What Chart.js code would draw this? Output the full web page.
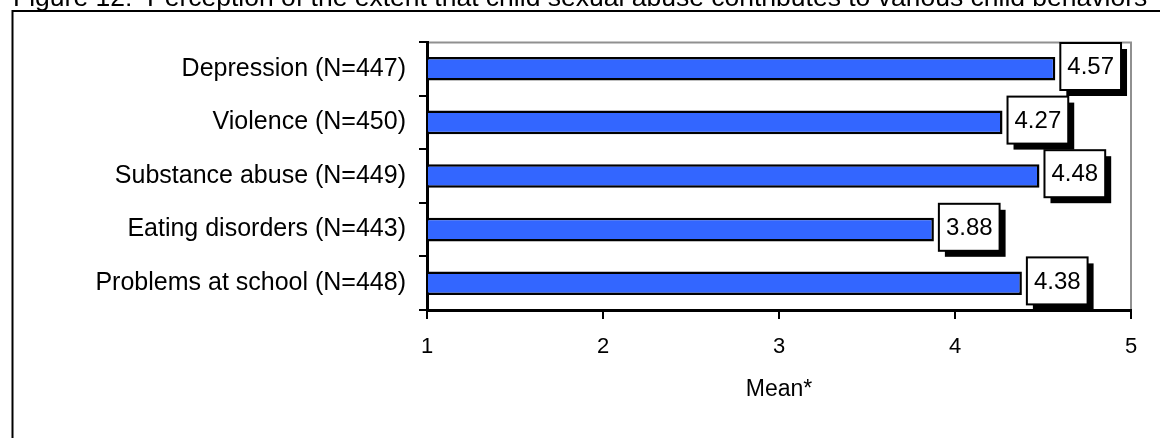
<!DOCTYPE html>
<html>
<head>
<meta charset="utf-8">
<script src="https://cdn.jsdelivr.net/npm/chart.js@4.4.1/dist/chart.umd.min.js"></script>
<style>
html,body{margin:0;padding:0;background:#fff;width:1160px;height:438px;overflow:hidden;}
#wrap{position:relative;width:1160px;height:438px;}
#title{position:absolute;left:13px;top:-16.4px;font-family:'Liberation Sans',Arial,sans-serif;font-size:26.5px;line-height:26.5px;white-space:pre;color:#000;z-index:2;}
canvas{position:absolute;left:0;top:0;}
</style>
</head>
<body>
<div id="wrap">
<canvas id="c" width="1160" height="438"></canvas>
<div id="title">Figure 12:  Perception of the extent that child sexual abuse contributes to various child behaviors</div>
</div>
<script>
// ---- data ----
const categories = [
  "Depression (N=447)",
  "Violence (N=450)",
  "Substance abuse (N=449)",
  "Eating disorders (N=443)",
  "Problems at school (N=448)"
];
const means = [4.57, 4.27, 4.48, 3.88, 4.38];
const xMin = 1;
const xMax = 5;
const xStep = 1;
const xTitle = "Mean*";

const FONT = "'Liberation Sans', Arial, sans-serif";

const framePlugin = {
  id: 'frame',
  beforeDraw(chart) {
    const ctx = chart.ctx;
    ctx.save();
    ctx.fillStyle = '#fff';
    ctx.fillRect(0, 0, chart.width, chart.height);
    ctx.strokeStyle = '#000';
    ctx.lineWidth = 2;
    ctx.beginPath();
    ctx.moveTo(12.5, chart.height + 10);
    ctx.lineTo(12.5, 11);
    ctx.lineTo(chart.width + 10, 11);
    ctx.stroke();
    ctx.restore();
  },
  beforeDatasetsDraw(chart) {
    const {ctx, chartArea: a} = chart;
    ctx.save();
    ctx.strokeStyle = '#909090';
    ctx.lineWidth = 2;
    ctx.beginPath();
    ctx.moveTo(a.left + 2, a.top + 0.5);
    ctx.lineTo(a.right, a.top + 0.5);
    ctx.lineTo(a.right, a.bottom - 1);
    ctx.stroke();
    ctx.restore();
  }
};

const labelPlugin = {
  id: 'valueBoxes',
  afterDatasetsDraw(chart) {
    const ctx = chart.ctx;
    const meta = chart.getDatasetMeta(0);
    ctx.save();
    ctx.font = '24px ' + FONT;
    meta.data.forEach((bar, i) => {
      const txt = means[i].toFixed(2);
      const tw = ctx.measureText(txt).width;
      const w = tw + 14, h = 47;
      const x = bar.x + 5, y = bar.y - 2.3 - h / 2;
      ctx.fillStyle = '#000';
      ctx.fillRect(x + 6, y + 6, w, h);
      ctx.fillStyle = '#fff';
      ctx.fillRect(x, y, w, h);
      ctx.strokeStyle = '#000';
      ctx.lineWidth = 2;
      ctx.strokeRect(x, y, w, h);
      ctx.fillStyle = '#000';
      ctx.textAlign = 'center';
      ctx.textBaseline = 'middle';
      ctx.fillText(txt, x + w / 2, y + h / 2 + 1);
    });
    ctx.restore();
  }
};

new Chart(document.getElementById('c'), {
  type: 'bar',
  data: {
    labels: categories,
    datasets: [{
      data: means,
      base: xMin,
      backgroundColor: '#3366FF',
      borderColor: '#000',
      borderWidth: 2.5,
      borderSkipped: 'start',
      barPercentage: 0.44,
      categoryPercentage: 1.0
    }]
  },
  options: {
    indexAxis: 'y',
    responsive: false,
    animation: false,
    devicePixelRatio: 1,
    layout: { padding: { top: 42, right: 29, left: 0, bottom: 0 } },
    plugins: { legend: { display: false }, tooltip: { enabled: false } },
    scales: {
      x: {
        type: 'linear',
        min: xMin,
        max: xMax,
        ticks: { stepSize: xStep, color: '#000', font: { family: FONT, size: 22 }, padding: 15 },
        grid: { drawOnChartArea: false, drawTicks: true, tickLength: 9, color: '#000', lineWidth: 2 },
        border: { display: true, color: '#000', width: 3 },
        title: { display: true, text: xTitle, color: '#000', font: { family: FONT, size: 23 }, padding: { top: 0, bottom: 35 } },
        afterFit(s) { s.height = 128; }
      },
      y: {
        ticks: { color: '#000', font: { family: FONT, size: 25 }, padding: 13 },
        grid: { drawOnChartArea: false, drawTicks: true, tickLength: 8, color: '#000', lineWidth: 2, offset: true },
        border: { display: true, color: '#000', width: 3 },
        afterFit(s) { s.width = 427; }
      }
    }
  },
  plugins: [framePlugin, labelPlugin]
});
</script>
</body>
</html>
